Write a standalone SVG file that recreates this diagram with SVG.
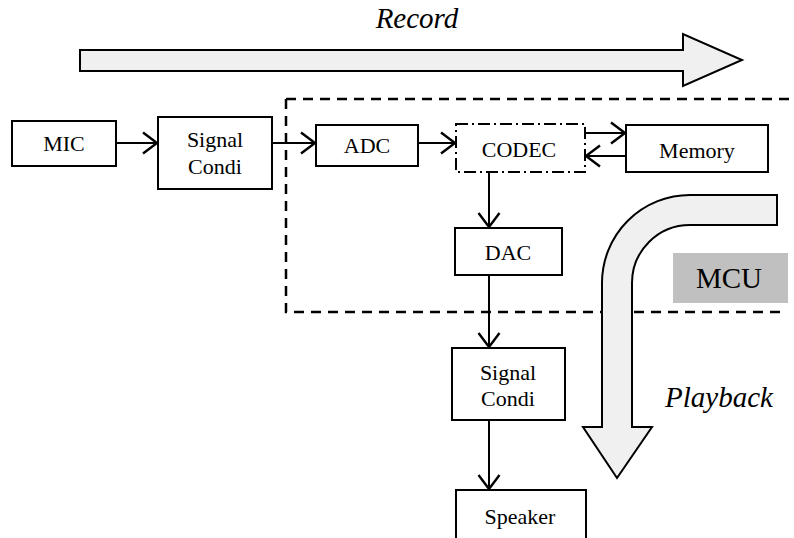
<svg xmlns="http://www.w3.org/2000/svg" width="794" height="538" viewBox="0 0 794 538">
<style>
.box{fill:#fff;stroke:#000;stroke-width:2}
.t{font-family:"Liberation Serif",serif;font-size:22px;fill:#000;text-anchor:middle}
.big{font-family:"Liberation Serif",serif;font-size:29px;font-style:italic;fill:#000;text-anchor:middle}
.conn{stroke:#000;stroke-width:2;fill:none;marker-end:url(#ah)}
.bigarrow{fill:#f0f0f0;stroke:#000;stroke-width:2}
</style>
<defs>
<marker id="ah" markerWidth="18" markerHeight="24" refX="16" refY="12" orient="auto" markerUnits="userSpaceOnUse">
<path d="M2 1.5 L16 12 L2 22.5" fill="none" stroke="#000" stroke-width="2.4"/>
</marker>
</defs>
<rect width="794" height="538" fill="#fff"/>
<g id="record">
<path class="bigarrow" d="M80 50 L683 50 L683 34 L742 60 L683 86 L683 71 L80 71 Z"/>
<text class="big" x="417" y="28">Record</text>
</g>
<g id="mcu-boundary">
<path d="M286 99 L794 99 M286 99 L286 312 L785 312" fill="none" stroke="#000" stroke-width="2.5" stroke-dasharray="10,7"/>
</g>
<g id="playback">
<path class="bigarrow" d="M777 195 L690 195 A88 88 0 0 0 602 283 L602 427 L583 427 L617 478 L652 427 L632 427 L632 283 A58 58 0 0 1 690 225 L777 225 Z"/>
<text class="big" x="719" y="407">Playback</text>
</g>
<g id="mcu">
<rect x="673" y="253" width="115" height="50" fill="#c0c0c0"/>
<text class="t" x="729" y="288" style="font-size:29px">MCU</text>
</g>
<g id="mic"><rect class="box" x="12" y="121" width="104" height="45"/><text class="t" x="64" y="151">MIC</text></g>
<g id="sc1"><rect class="box" x="158" y="117" width="114" height="72"/><text class="t" x="215" y="147">Signal</text><text class="t" x="215" y="174">Condi</text></g>
<g id="adc"><rect class="box" x="316" y="125" width="102" height="41"/><text class="t" x="367" y="153">ADC</text></g>
<g id="codec"><rect x="456" y="124" width="129" height="48" fill="#fff" stroke="#000" stroke-width="2" stroke-dasharray="12,4,2,4"/><text class="t" x="519" y="157">CODEC</text></g>
<g id="memory"><rect class="box" x="626" y="125" width="142" height="47"/><text class="t" x="697" y="158">Memory</text></g>
<g id="dac"><rect class="box" x="455" y="228" width="107" height="47"/><text class="t" x="508" y="260">DAC</text></g>
<g id="sc2"><rect class="box" x="452" y="348" width="113" height="72"/><text class="t" x="508" y="380">Signal</text><text class="t" x="508" y="406">Condi</text></g>
<g id="speaker"><rect class="box" x="456" y="490" width="130" height="50"/><text class="t" x="520" y="524">Speaker</text></g>
<g id="connectors">
<path class="conn" d="M116 143 L157 143"/>
<path class="conn" d="M272 143 L315 143"/>
<path class="conn" d="M418 143 L455 143"/>
<path class="conn" d="M585 133 L625 133"/>
<path class="conn" d="M626 156 L586 156"/>
<path class="conn" d="M489 172 L489 227"/>
<path class="conn" d="M489 275 L489 347"/>
<path class="conn" d="M489 420 L489 489"/>
</g>
</svg>
